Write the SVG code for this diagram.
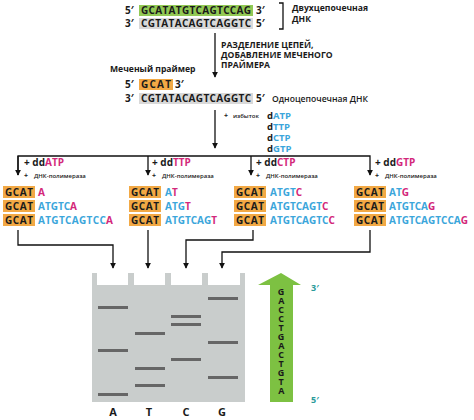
<svg xmlns="http://www.w3.org/2000/svg" width="474" height="420" viewBox="0 0 474 420">
<defs>
<marker id="ah" viewBox="0 0 8 8" refX="7" refY="4" markerWidth="6" markerHeight="6" markerUnits="userSpaceOnUse" orient="auto">
<path d="M0,0 L8,4 L0,8 Z" fill="#111"/>
</marker>
<style>
text{font-family:"Open Sans","Liberation Sans",sans-serif;font-weight:700;fill:#1a1a1a}
.seq{font-size:10px}
.b{fill:#3ba6db}
.m{fill:#d3287a}
.lbl{font-size:8.6px}
.sm{font-size:6px;font-weight:600}
.pl{font-size:7px}
.dd{font-size:10px}
.dn{font-size:9.5px}
.or{fill:#f2a945}
.gr{fill:#d9d9d9}
.gn{fill:#92c955}
.band{fill:#666}
.ln{fill:none;stroke:#111;stroke-width:1.3}
.gl{font-size:11px}
.vert{font-size:9px;writing-mode:vertical-rl;text-orientation:upright;letter-spacing:-4px}
</style>
</defs>

<g id="dsDNA">
<rect class="gn" x="139" y="5" width="114" height="11"/>
<rect class="gr" x="139" y="18" width="114" height="11"/>
<text class="seq" x="125" y="14">5′</text>
<text class="seq" x="141" y="14" textLength="110">GCATATGTCAGTCCAG</text>
<text class="seq" x="256" y="14">3′</text>
<text class="seq" x="125" y="27">3′</text>
<text class="seq" x="141" y="27" textLength="110">CGTATACAGTCAGGTC</text>
<text class="seq" x="256" y="27">5′</text>
<path class="ln" d="M279,3 H283 V29 H279"/>
<text class="lbl" x="292" y="11">Двухцепочечная</text>
<text class="lbl" x="292" y="22">ДНК</text>
</g>

<g id="step1">
<text class="lbl" x="221" y="48">РАЗДЕЛЕНИЕ ЦЕПЕЙ,</text>
<text class="lbl" x="221" y="58">ДОБАВЛЕНИЕ МЕЧЕНОГО</text>
<text class="lbl" x="221" y="68">ПРАЙМЕРА</text>
</g>

<g id="primer">
<text class="lbl" x="110" y="72">Меченый праймер</text>
<rect class="or" x="139" y="79" width="34" height="11"/>
<text class="seq" x="125" y="88">5′</text>
<text class="seq" x="141" y="88" textLength="30">GCAT</text>
<text class="seq" x="175" y="88">3′</text>
</g>

<g id="ssDNA">
<rect class="gr" x="139" y="93" width="114" height="11"/>
<text class="seq" x="125" y="102">3′</text>
<text class="seq" x="141" y="102" textLength="110">CGTATACAGTCAGGTC</text>
<text class="seq" x="256" y="102">5′</text>
<text class="lbl" x="272" y="102" style="font-weight:600">Одноцепочечная ДНК</text>
</g>

<g id="dNTP">
<text class="pl" x="224" y="118">+</text>
<text class="sm" x="233" y="118">избыток</text>
<text class="dn" x="267" y="119">d<tspan class="b">ATP</tspan></text>
<text class="dn" x="267" y="130">d<tspan class="b">TTP</tspan></text>
<text class="dn" x="267" y="141">d<tspan class="b">CTP</tspan></text>
<text class="dn" x="267" y="152">d<tspan class="b">GTP</tspan></text>
</g>

<g id="connectors">
<line class="ln" x1="215" y1="33" x2="215" y2="77" marker-end="url(#ah)"/>
<line class="ln" x1="215" y1="110" x2="215" y2="148" marker-end="url(#ah)"/>
<path class="ln" d="M18,175 V156 H370 V175" marker-end="url(#ah)"/>
<line class="ln" x1="18" y1="156" x2="18" y2="175" marker-end="url(#ah)"/>
<line class="ln" x1="148" y1="156" x2="148" y2="175" marker-end="url(#ah)"/>
<line class="ln" x1="251" y1="156" x2="251" y2="175" marker-end="url(#ah)"/>
<path class="ln" d="M18,230 V245 H113 V268" marker-end="url(#ah)"/>
<line class="ln" x1="148" y1="230" x2="148" y2="268" marker-end="url(#ah)"/>
<path class="ln" d="M253,230 V240 H186 V268" marker-end="url(#ah)"/>
<path class="ln" d="M370,230 V252 H222 V268" marker-end="url(#ah)"/>
</g>

<g id="laneA">
<text class="dd" x="24" y="166">+ dd<tspan class="m">ATP</tspan></text>
<text class="pl" x="24" y="178">+</text><text class="sm" x="34" y="178">ДНК-полимераза</text>
<rect class="or" x="3" y="186" width="32" height="12"/>
<rect class="or" x="3" y="200" width="32" height="12"/>
<rect class="or" x="3" y="214" width="32" height="12"/>
<text class="seq" x="5" y="196" textLength="28">GCAT</text>
<text class="seq" x="5" y="210" textLength="28">GCAT</text>
<text class="seq" x="5" y="224" textLength="28">GCAT</text>
<text class="seq" x="38" y="196"><tspan class="m">A</tspan></text>
<text class="seq" x="38" y="210"><tspan class="b">ATGTC</tspan><tspan class="m">A</tspan></text>
<text class="seq" x="38" y="224" textLength="75"><tspan class="b">ATGTCAGTCC</tspan><tspan class="m">A</tspan></text>
</g>

<g id="laneT">
<text class="dd" x="152" y="166">+ dd<tspan class="m">TTP</tspan></text>
<text class="pl" x="152" y="178">+</text><text class="sm" x="162" y="178">ДНК-полимераза</text>
<rect class="or" x="129" y="186" width="32" height="12"/>
<rect class="or" x="129" y="200" width="32" height="12"/>
<rect class="or" x="129" y="214" width="32" height="12"/>
<text class="seq" x="131" y="196" textLength="28">GCAT</text>
<text class="seq" x="131" y="210" textLength="28">GCAT</text>
<text class="seq" x="131" y="224" textLength="28">GCAT</text>
<text class="seq" x="165" y="196"><tspan class="b">A</tspan><tspan class="m">T</tspan></text>
<text class="seq" x="165" y="210"><tspan class="b">ATG</tspan><tspan class="m">T</tspan></text>
<text class="seq" x="165" y="224"><tspan class="b">ATGTCAG</tspan><tspan class="m">T</tspan></text>
</g>

<g id="laneC">
<text class="dd" x="256" y="166">+ dd<tspan class="m">CTP</tspan></text>
<text class="pl" x="256" y="178">+</text><text class="sm" x="266" y="178">ДНК-полимераза</text>
<rect class="or" x="234" y="186" width="32" height="12"/>
<rect class="or" x="234" y="200" width="32" height="12"/>
<rect class="or" x="234" y="214" width="32" height="12"/>
<text class="seq" x="236" y="196" textLength="28">GCAT</text>
<text class="seq" x="236" y="210" textLength="28">GCAT</text>
<text class="seq" x="236" y="224" textLength="28">GCAT</text>
<text class="seq" x="270" y="196"><tspan class="b">ATGT</tspan><tspan class="m">C</tspan></text>
<text class="seq" x="270" y="210"><tspan class="b">ATGTCAGT</tspan><tspan class="m">C</tspan></text>
<text class="seq" x="270" y="224"><tspan class="b">ATGTCAGTC</tspan><tspan class="m">C</tspan></text>
</g>

<g id="laneG">
<text class="dd" x="375" y="166">+ dd<tspan class="m">GTP</tspan></text>
<text class="pl" x="375" y="178">+</text><text class="sm" x="385" y="178">ДНК-полимераза</text>
<rect class="or" x="354" y="186" width="32" height="12"/>
<rect class="or" x="354" y="200" width="32" height="12"/>
<rect class="or" x="354" y="214" width="32" height="12"/>
<text class="seq" x="356" y="196" textLength="28">GCAT</text>
<text class="seq" x="356" y="210" textLength="28">GCAT</text>
<text class="seq" x="356" y="224" textLength="28">GCAT</text>
<text class="seq" x="389" y="196"><tspan class="b">AT</tspan><tspan class="m">G</tspan></text>
<text class="seq" x="389" y="210"><tspan class="b">ATGTCA</tspan><tspan class="m">G</tspan></text>
<text class="seq" x="389" y="224"><tspan class="b">ATGTCAGTCCA</tspan><tspan class="m">G</tspan></text>
</g>

<g id="gel">
<path fill="#c9cdcc" d="M92,273 H97 V285 H128 V273 H134 V285 H165 V273 H171 V285 H202 V273 H208 V285 H240 V273 H245 V402 H92 Z"/>
<rect class="band" x="98" y="306" width="30" height="3"/>
<rect class="band" x="98" y="349" width="30" height="3"/>
<rect class="band" x="98" y="393" width="30" height="3"/>
<rect class="band" x="135" y="332" width="30" height="3"/>
<rect class="band" x="135" y="367" width="30" height="3"/>
<rect class="band" x="135" y="384" width="30" height="3"/>
<rect class="band" x="171" y="315" width="30" height="3"/>
<rect class="band" x="171" y="323" width="30" height="3"/>
<rect class="band" x="171" y="358" width="30" height="3"/>
<rect class="band" x="208" y="297" width="30" height="3"/>
<rect class="band" x="208" y="341" width="30" height="3"/>
<rect class="band" x="208" y="376" width="30" height="3"/>
<text class="gl" x="113" y="416" text-anchor="middle">A</text>
<text class="gl" x="149" y="416" text-anchor="middle">T</text>
<text class="gl" x="186" y="416" text-anchor="middle">C</text>
<text class="gl" x="222" y="416" text-anchor="middle">G</text>
</g>

<g id="readArrow">
<path fill="#7dc142" d="M270,402 V285 H258 L281,273 L301,285 H293 V402 Z"/>
<text class="vert" x="281" y="285">GACCTGACTGTA</text>
<text font-size="9" x="311" y="291" style="fill:#2a9a9a">3′</text>
<text font-size="9" x="311" y="403" style="fill:#2a9a9a">5′</text>
</g>
</svg>
